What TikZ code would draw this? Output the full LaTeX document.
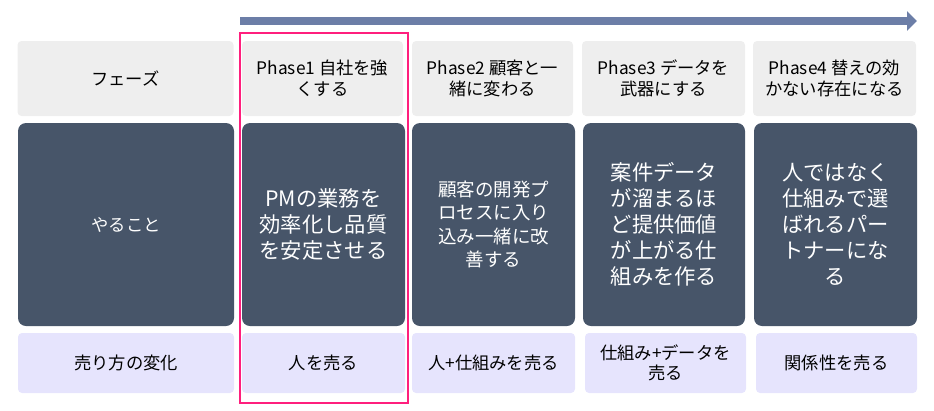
\documentclass[tikz,border=0pt]{standalone}
\usepackage{fontspec}
\setmainfont{Noto Sans CJK JP}
\usetikzlibrary{arrows.meta}
\definecolor{hdrfill}{HTML}{EEEEEE}
\definecolor{midfill}{HTML}{475569}
\definecolor{botfill}{HTML}{E6E4FD}
\definecolor{arrowc}{HTML}{6C7EA7}
\definecolor{pinkc}{HTML}{FF1F7D}
\tikzset{
  hdr/.style={fill=hdrfill, rounded corners=4pt, draw=none, align=center, text=black,
    font=\fontsize{17.3}{21}\selectfont, inner sep=0pt},
  mid/.style={fill=midfill, rounded corners=8pt, draw=none, align=center, text=white, inner sep=0pt},
  midbig/.style={mid, font=\fontsize{21.3}{26}\selectfont},
  midsmall/.style={mid, font=\fontsize{18.5}{23.5}\selectfont},
  midlabel/.style={mid, font=\fontsize{17.3}{21}\selectfont},
  bot/.style={fill=botfill, rounded corners=4pt, draw=none, align=center, text=black,
    font=\fontsize{17.3}{20}\selectfont, inner sep=0pt},
  highlight/.style={draw=pinkc, line width=2.2pt},
  timeline/.style={draw=arrowc, line width=8.5pt, -{Triangle[length=10pt,width=19pt]}}
}
\begin{document}
\begin{tikzpicture}[x=1pt,y=-1pt]
\useasboundingbox (0,0) rectangle (934,410);
% timeline arrow
\coordinate (tstart) at (240,21);
\coordinate (tend) at (917,21);
\draw[timeline] (tstart) -- (tend);
% header row
\node[hdr, minimum width=216pt, minimum height=75pt] (h0) at (125.5,78.5) {フェーズ};
\node[hdr, minimum width=161pt, minimum height=75pt] (h1) at (322.5,78.5) {Phase1 自社を強\\くする};
\node[hdr, minimum width=161pt, minimum height=75pt] (h2) at (492.5,78.5) {Phase2 顧客と一\\緒に変わる};
\node[hdr, minimum width=163pt, minimum height=75pt] (h3) at (663.5,78.5) {Phase3 データを\\武器にする};
\node[hdr, minimum width=163pt, minimum height=75pt] (h4) at (834.5,78.5) {Phase4 替えの効\\かない存在になる};
% middle row
\node[midlabel, minimum width=216pt, minimum height=203pt] (m0) at (126,224.5) {やること};
\node[midbig, minimum width=163pt, minimum height=203pt] (m1) at (323.5,224.5) {PMの業務を\\効率化し品質\\を安定させる};
\node[midsmall, minimum width=163pt, minimum height=203pt] (m2) at (493.5,224.5) {顧客の開発プ\\ロセスに入り\\込み一緒に改\\善する};
\node[midbig, minimum width=162pt, minimum height=203pt] (m3) at (664,224.5) {案件データ\\が溜まるほ\\ど提供価値\\が上がる仕\\組みを作る};
\node[midbig, minimum width=163pt, minimum height=203pt] (m4) at (835.5,224.5) {人ではなく\\仕組みで選\\ばれるパー\\トナーにな\\る};
% bottom row
\node[bot, minimum width=216pt, minimum height=60pt] (b0) at (126,363) {売り方の変化};
\node[bot, minimum width=163pt, minimum height=60pt] (b1) at (323.5,363) {人を売る};
\node[bot, minimum width=163pt, minimum height=60pt] (b2) at (493.5,363) {人+仕組みを売る};
\node[bot, minimum width=161pt, minimum height=60pt] (b3) at (665.5,363) {仕組み+データを\\売る};
\node[bot, minimum width=161pt, minimum height=60pt] (b4) at (836.5,363) {関係性を売る};
% highlight frame around Phase1 column
\draw[highlight] (240,33) rectangle (408,403);
\end{tikzpicture}
\end{document}
